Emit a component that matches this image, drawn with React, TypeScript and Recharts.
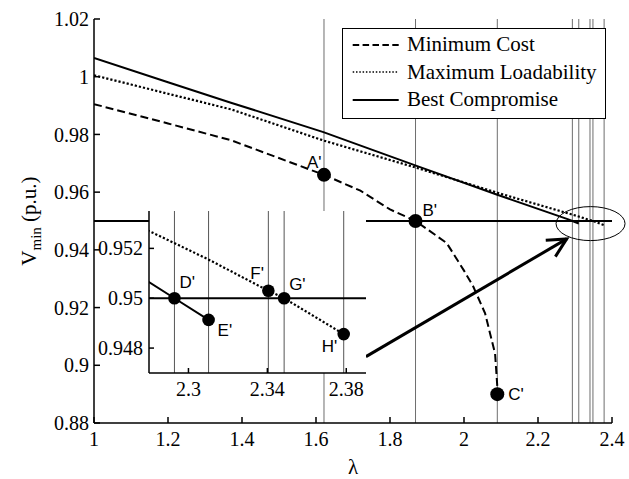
import React from 'react';
import {
  ComposedChart,
  Line,
  Scatter,
  XAxis,
  YAxis,
  ReferenceLine,
  ReferenceDot,
  Legend,
  CartesianGrid,
} from 'recharts';

// ---- axis ticks ----
const lambdaTicks = [1, 1.2, 1.4, 1.6, 1.8, 2, 2.2, 2.4];
const vminTicks = [0.88, 0.9, 0.92, 0.94, 0.96, 0.98, 1, 1.02];
const zoomLambdaTicks = [2.3, 2.34, 2.38];
const zoomVminTicks = [0.948, 0.95, 0.952];

// ---- Vmin vs loading factor for the three solutions ----
const minimumCost = [
  { x: 1.0, y: 0.9905 },
  { x: 1.2, y: 0.9838 },
  { x: 1.37, y: 0.978 },
  { x: 1.6216, y: 0.966 },
  { x: 1.72, y: 0.9605 },
  { x: 1.8, y: 0.954 },
  { x: 1.869, y: 0.95 },
  { x: 1.953, y: 0.9424 },
  { x: 2.0, y: 0.9328 },
  { x: 2.025, y: 0.9273 },
  { x: 2.057, y: 0.918 },
  { x: 2.084, y: 0.904 },
  { x: 2.09, y: 0.8927 },
  { x: 2.09, y: 0.89 },
];

const maximumLoadability = [
  { x: 1.0, y: 1.0005 },
  { x: 1.1, y: 0.9973 },
  { x: 1.2, y: 0.9941 },
  { x: 1.37, y: 0.9887 },
  { x: 1.5, y: 0.9831 },
  { x: 1.62, y: 0.9779 },
  { x: 1.87, y: 0.9685 },
  { x: 2.1, y: 0.9594 },
  { x: 2.28, y: 0.9527 },
  { x: 2.31, y: 0.95156 },
  { x: 2.3405, y: 0.9503 },
  { x: 2.3485, y: 0.95 },
  { x: 2.3787, y: 0.94856 },
];

const bestCompromise = [
  { x: 1.0, y: 1.0065 },
  { x: 1.2, y: 0.9981 },
  { x: 1.37, y: 0.991 },
  { x: 1.62, y: 0.9808 },
  { x: 1.87, y: 0.9692 },
  { x: 2.09, y: 0.9591 },
  { x: 2.28, y: 0.95065 },
  { x: 2.2929, y: 0.95 },
  { x: 2.3102, y: 0.94913 },
];

// ---- marked operating points ----
const mainPoints = [
  { label: "A'", x: 1.6216, y: 0.966 },
  { label: "B'", x: 1.869, y: 0.95 },
  { label: "C'", x: 2.09, y: 0.89 },
];

const zoomPoints = [
  { label: "D'", x: 2.2929, y: 0.95 },
  { label: "E'", x: 2.3102, y: 0.94913 },
  { label: "F'", x: 2.3405, y: 0.9503 },
  { label: "G'", x: 2.3485, y: 0.95 },
  { label: "H'", x: 2.3787, y: 0.94856 },
];

const voltageLimit = 0.95;

// zoomed region marker and the arrow pointing at it
const zoomRegion = { x: 2.342, y: 0.9491 };
const zoomArrow = [
  { x: 1.735, y: 0.903 },
  { x: 2.2776, y: 0.9438 },
];

// ---- styling ----
const SERIF = "'Liberation Serif', 'Times New Roman', serif";
const SANS = "'Liberation Sans', Arial, sans-serif";

const seriesStyles = [
  { name: 'Minimum Cost', data: minimumCost, dash: '8 4', legendDash: '6.5 3.4', width: 2, legendWidth: 2 },
  { name: 'Maximum Loadability', data: maximumLoadability, dash: '2.2 2', legendDash: '1.5 1.8', width: 2.2, legendWidth: 1.5 },
  { name: 'Best Compromise', data: bestCompromise, dash: undefined, legendDash: undefined, width: 2, legendWidth: 2 },
];

// text offsets (to start / baseline) of each point label
const labelOffset: Record<string, [number, number]> = {
  "A'": [-17, -7],
  "B'": [7, -5],
  "C'": [11, 6],
  "D'": [5, -10],
  "E'": [9, 16],
  "F'": [-18, -12],
  "G'": [5, -8],
  "H'": [-22, 18],
};

const pointShape = (r: number) => (props: any) => {
  const { cx, cy, payload } = props;
  if (cx == null || cy == null) return <g />;
  const [dx, dy] = labelOffset[payload.label] || [6, -6];
  return (
    <g>
      <circle cx={cx} cy={cy} r={r} fill="#000" />
      <text x={cx + dx} y={cy + dy} fontFamily={SANS} fontSize={17} fill="#000">
        {payload.label}
      </text>
    </g>
  );
};

const ellipseShape = (props: any) => {
  const { cx, cy } = props;
  return <ellipse cx={cx} cy={cy} rx={34.5} ry={17} fill="none" stroke="#000" strokeWidth={1} />;
};

const arrowShape = (props: any) => {
  const { x1, y1, x2, y2 } = props;
  const ang = Math.atan2(y2 - y1, x2 - x1);
  const len = 21;
  const spread = (27 * Math.PI) / 180;
  const w1x = x2 - len * Math.cos(ang - spread);
  const w1y = y2 - len * Math.sin(ang - spread);
  const w2x = x2 - len * Math.cos(ang + spread);
  const w2y = y2 - len * Math.sin(ang + spread);
  return (
    <g>
      <line x1={x1} y1={y1} x2={x2} y2={y2} stroke="#000" strokeWidth={3} />
      <polyline
        points={`${w1x},${w1y} ${x2},${y2} ${w2x},${w2y}`}
        fill="none"
        stroke="#000"
        strokeWidth={3}
      />
    </g>
  );
};

const VminLabel = (props: any) => {
  const vb = props.viewBox || { x: 0, y: 19, width: 94, height: 404 };
  const cx = vb.x + 36;
  const cy = vb.y + vb.height / 2;
  return (
    <text
      x={cx}
      y={cy}
      transform={`rotate(-90 ${cx} ${cy})`}
      textAnchor="middle"
      fontFamily={SERIF}
      fontSize={21}
      fill="#000"
    >
      V
      <tspan fontSize={15} dy={5}>
        min
      </tspan>
      <tspan dy={-5}> (p.u.)</tspan>
    </text>
  );
};

const LambdaLabel = (props: any) => {
  const vb = props.viewBox || { x: 94, y: 423, width: 518, height: 56 };
  return (
    <text x={vb.x + vb.width / 2} y={vb.y + 51} textAnchor="middle" fontFamily={SERIF} fontSize={21} fill="#000">
      λ
    </text>
  );
};

const LegendBox = () => (
  <div
    style={{
      width: 262,
      height: 87,
      border: '1px solid #000',
      background: '#fff',
      paddingTop: 2,
      boxSizing: 'content-box',
    }}
  >
    {seriesStyles.map((s) => (
      <div key={s.name} style={{ height: 27.5, display: 'flex', alignItems: 'center' }}>
        <svg width={64} height={10} style={{ flex: 'none' }}>
          <line
            x1={9.7}
            x2={55.7}
            y1={5}
            y2={5}
            stroke="#000"
            strokeWidth={s.legendWidth}
            strokeDasharray={s.legendDash}
          />
        </svg>
        <span style={{ fontFamily: SERIF, fontSize: 21, color: '#000', lineHeight: '21px', whiteSpace: 'nowrap' }}>
          {s.name}
        </span>
      </div>
    ))}
  </div>
);

const tickStyle = { fill: '#000', fontSize: 20, fontFamily: SERIF };
const zoomTickStyle = { fill: '#000', fontSize: 20, fontFamily: SERIF };

function MainChart() {
  return (
    <ComposedChart width={629} height={479} margin={{ top: 19, right: 17, bottom: 0, left: 0 }}>
      <XAxis
        type="number"
        dataKey="x"
        domain={[1, 2.4]}
        ticks={lambdaTicks}
        allowDataOverflow
        height={56}
        tickSize={-6}
        tickMargin={15}
        stroke="#000"
        strokeWidth={1.5}
        tick={tickStyle}
        label={LambdaLabel}
      />
      <XAxis
        xAxisId="top"
        orientation="top"
        type="number"
        domain={[1, 2.4]}
        ticks={lambdaTicks}
        allowDataOverflow
        height={0}
        tickSize={-6}
        tick={false}
        stroke="#000"
        strokeWidth={1.5}
      />
      <YAxis
        type="number"
        domain={[0.88, 1.02]}
        ticks={vminTicks}
        allowDataOverflow
        width={94}
        tickSize={-6}
        tickMargin={11}
        stroke="#000"
        strokeWidth={1.5}
        tick={tickStyle}
        label={VminLabel}
      />
      <YAxis
        yAxisId="right"
        orientation="right"
        type="number"
        domain={[0.88, 1.02]}
        ticks={vminTicks}
        allowDataOverflow
        width={0}
        tickSize={-6}
        tick={false}
        stroke="#000"
        strokeWidth={1.5}
      />

      {[...mainPoints, ...zoomPoints].map((p) => (
        <ReferenceLine key={'v' + p.label} x={p.x} stroke="#6e6e6e" strokeWidth={1} />
      ))}
      <ReferenceLine y={voltageLimit} stroke="#000" strokeWidth={2} />

      {seriesStyles.map((s) => (
        <Line
          key={s.name}
          name={s.name}
          data={s.data}
          dataKey="y"
          type="linear"
          stroke="#000"
          strokeWidth={s.width}
          strokeDasharray={s.dash}
          dot={false}
          activeDot={false}
          isAnimationActive={false}
        />
      ))}

      <Scatter data={mainPoints} dataKey="y" shape={pointShape(7)} isAnimationActive={false} legendType="none" />

      <ReferenceDot x={zoomRegion.x} y={zoomRegion.y} shape={ellipseShape} ifOverflow="visible" />
      <ReferenceLine segment={zoomArrow} shape={arrowShape} ifOverflow="visible" />

      <Legend
        layout="horizontal"
        verticalAlign="middle"
        align="center"
        content={LegendBox}
        wrapperStyle={{ position: 'absolute', left: 342, top: 28, width: 264, height: 89 }}
      />
    </ComposedChart>
  );
}

function ZoomChart() {
  return (
    <ComposedChart width={280} height={205} margin={{ top: 6, right: 3, bottom: 0, left: 0 }}>
      <CartesianGrid fill="#fff" horizontal={false} vertical={false} />
      <XAxis
        type="number"
        dataKey="x"
        domain={[2.28, 2.39]}
        ticks={zoomLambdaTicks}
        allowDataOverflow
        height={37}
        tickSize={-5}
        tickMargin={14}
        stroke="#000"
        strokeWidth={1.5}
        tick={zoomTickStyle}
      />
      <XAxis
        xAxisId="top"
        orientation="top"
        type="number"
        domain={[2.28, 2.39]}
        ticks={zoomLambdaTicks}
        allowDataOverflow
        height={0}
        tickSize={-5}
        tick={false}
        stroke="#000"
        strokeWidth={1.5}
      />
      <YAxis
        type="number"
        domain={[0.947, 0.9535]}
        ticks={zoomVminTicks}
        allowDataOverflow
        width={60}
        tickSize={-5}
        tickMargin={11}
        stroke="#000"
        strokeWidth={1.5}
        tick={zoomTickStyle}
      />
      <YAxis
        yAxisId="right"
        orientation="right"
        type="number"
        domain={[0.947, 0.9535]}
        ticks={zoomVminTicks}
        allowDataOverflow
        width={0}
        tickSize={-5}
        tick={false}
        stroke="#000"
        strokeWidth={1.5}
      />

      {zoomPoints.map((p) => (
        <ReferenceLine key={'zv' + p.label} x={p.x} stroke="#555" strokeWidth={1} />
      ))}
      <ReferenceLine y={voltageLimit} stroke="#000" strokeWidth={2} />

      {seriesStyles.slice(1).map((s) => (
        <Line
          key={s.name}
          name={s.name}
          data={s.data}
          dataKey="y"
          type="linear"
          stroke="#000"
          strokeWidth={s.width}
          strokeDasharray={s.dash}
          dot={false}
          activeDot={false}
          isAnimationActive={false}
        />
      ))}

      <Scatter data={zoomPoints} dataKey="y" shape={pointShape(6.3)} isAnimationActive={false} legendType="none" />
    </ComposedChart>
  );
}

export default function App() {
  return (
    <div style={{ position: 'absolute', left: 0, top: 0, width: 629, height: 479, background: '#fff' }}>
      <div style={{ position: 'absolute', left: 0, top: 0 }}>
        <MainChart />
      </div>
      <div style={{ position: 'absolute', left: 89, top: 205 }}>
        <ZoomChart />
      </div>
    </div>
  );
}
